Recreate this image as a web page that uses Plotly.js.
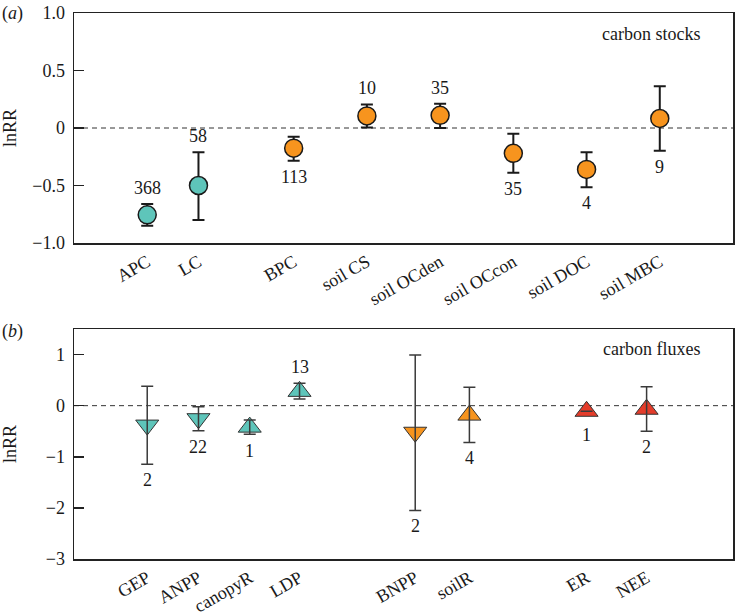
<!DOCTYPE html>
<html>
<head>
<meta charset="utf-8">
<script src="https://cdn.plot.ly/plotly-3.0.1.min.js"></script>
<style>html,body{margin:0;padding:0;background:#fff;}#chart{width:735px;height:616px;}</style>
</head>
<body>
<div id="chart"></div>
<script>
// ---------- data: panel (a) carbon stocks ----------
const stockCats   = ['APC', 'LC', 'BPC', 'soil CS', 'soil OCden', 'soil OCcon', 'soil DOC', 'soil MBC'];
const stockGroup  = ['above', 'above', 'below', 'below', 'below', 'below', 'below', 'below'];
const stockLnRR   = [-0.755, -0.50, -0.175, 0.105, 0.11, -0.22, -0.36, 0.083];
const stockErrUp  = [0.095, 0.29, 0.10, 0.10, 0.10, 0.17, 0.15, 0.28];
const stockErrDn  = [0.095, 0.30, 0.11, 0.10, 0.11, 0.17, 0.155, 0.28];
const stockN      = [368, 58, 113, 10, 35, 35, 4, 9];
const stockNSide  = ['above', 'above', 'below', 'above', 'above', 'below', 'below', 'below'];

// ---------- data: panel (b) carbon fluxes ----------
const fluxCats    = ['GEP', 'ANPP', 'canopyR', 'LDP', 'BNPP', 'soilR', 'ER', 'NEE'];
const fluxGroup   = ['above', 'above', 'above', 'above', 'below', 'below', 'eco', 'eco'];
const fluxLnRR    = [-0.38, -0.255, -0.42, 0.28, -0.52, -0.185, -0.11, -0.07];
const fluxErrUp   = [0.76, 0.235, 0.14, 0.16, 1.51, 0.545, 0, 0.44];
const fluxErrDn   = [0.765, 0.235, 0.14, 0.15, 1.53, 0.535, 0, 0.43];
const fluxN       = [2, 22, 1, 13, 2, 4, 1, 2];
const fluxNSide   = ['below', 'below', 'below', 'above', 'below', 'below', 'below', 'below'];
const fluxMarker  = ['down', 'down', 'up', 'up', 'down', 'up', 'up', 'up'];

// ---------- layout positions (not data) ----------
const stockXPos = [1, 1.7, 3, 4, 5, 6, 7, 8];
const fluxXPos  = [1, 1.7, 2.4, 3.08, 4.66, 5.4, 7, 7.82];

const W = 735, H = 616;
const M = {l: 74, r: 2, t: 13, b: 57, pad: 0};
const plotH = H - M.t - M.b;
const panelPx = 230;
const rangeA = [-1, 1], rangeB = [-3, 1.5];
const domA = [1 - panelPx / plotH, 1], domB = [0, panelPx / plotH];
const pxA = panelPx / (rangeA[1] - rangeA[0]);
const pxB = panelPx / (rangeB[1] - rangeB[0]);

const groupColor = {above: '#5ec5ba', below: '#f7941e', eco: '#e43c2a'};
const FONT = 'Liberation Serif, Times New Roman, serif';
const TXT = '#1a1a1a';

const traces = [
  {
    x: stockXPos, y: stockLnRR, xaxis: 'x', yaxis: 'y', type: 'scatter', mode: 'markers',
    marker: {symbol: 'circle', size: 18, color: stockGroup.map(g => groupColor[g]), line: {color: '#1a1a1a', width: 1.5}},
    error_y: {type: 'data', symmetric: false, array: stockErrUp, arrayminus: stockErrDn, color: '#1a1a1a', thickness: 2, width: 6},
    hoverinfo: 'skip'
  },
  {
    x: fluxXPos, y: fluxLnRR, xaxis: 'x2', yaxis: 'y2', type: 'scatter', mode: 'markers',
    marker: {symbol: fluxMarker.map(d => 'triangle-' + d), size: 20, color: fluxGroup.map(g => groupColor[g]), line: {color: '#333', width: 1}},
    hoverinfo: 'skip'
  },
  {
    // error bars drawn above the triangles, as in the reference
    x: fluxXPos, y: fluxLnRR, xaxis: 'x2', yaxis: 'y2', type: 'scatter', mode: 'markers',
    marker: {size: 1, color: 'rgba(0,0,0,0)'},
    error_y: {type: 'data', symmetric: false, array: fluxErrUp, arrayminus: fluxErrDn, color: '#3a3a3a', thickness: 1.5, width: 6},
    hoverinfo: 'skip'
  }
];

const annotations = [];
function countLabels(xs, ys, ns, sides, up, dn, xref, yref, pxPer, half) {
  ns.forEach((n, i) => {
    const above = sides[i] === 'above';
    const errPx = (above ? up[i] : dn[i]) * pxPer;
    const shift = Math.max(errPx, half) + 16;
    annotations.push({
      x: xs[i], y: ys[i], xref: xref, yref: yref, text: String(n), showarrow: false,
      xanchor: 'center', yanchor: 'middle', yshift: above ? shift : -shift,
      font: {family: FONT, size: 18, color: TXT}
    });
  });
}
countLabels(stockXPos, stockLnRR, stockN, stockNSide, stockErrUp, stockErrDn, 'x', 'y', pxA, 9);
countLabels(fluxXPos, fluxLnRR, fluxN, fluxNSide, fluxErrUp, fluxErrDn, 'x2', 'y2', pxB, 7.5);

annotations.push(
  {xref: 'x domain', yref: 'y domain', x: 1, y: 1, xanchor: 'right', yanchor: 'middle', xshift: -31, yshift: -21,
   text: 'carbon stocks', showarrow: false, font: {family: FONT, size: 18, color: TXT}},
  {xref: 'x2 domain', yref: 'y2 domain', x: 1, y: 1, xanchor: 'right', yanchor: 'middle', xshift: -31, yshift: -20,
   text: 'carbon fluxes', showarrow: false, font: {family: FONT, size: 18, color: TXT}},
  {xref: 'paper', yref: 'paper', x: 0, y: 1, xanchor: 'left', yanchor: 'middle', xshift: -M.l, yshift: 0,
   text: '(<i>a</i>)', showarrow: false, font: {family: FONT, size: 18, color: TXT}},
  {xref: 'paper', yref: 'y2 domain', x: 0, y: 1, xanchor: 'left', yanchor: 'middle', xshift: -M.l, yshift: -3,
   text: '(<i>b</i>)', showarrow: false, font: {family: FONT, size: 18, color: TXT}}
);

const zeroLine = (yref, xref) => ({
  type: 'line', xref: xref + ' domain', yref: yref, x0: 0, x1: 1, y0: 0, y1: 0,
  line: {color: '#333', width: 1, dash: '5px,4px'}, layer: 'below'
});

const xCommon = {
  range: [0, 9], showgrid: false, zeroline: false, showline: true, mirror: true,
  linecolor: '#222', linewidth: 1.5, ticks: '', tickangle: -30,
  tickfont: {family: FONT, size: 18, color: TXT}, fixedrange: true
};
const yCommon = {
  showgrid: false, zeroline: false, showline: true, mirror: true,
  linecolor: '#222', linewidth: 1.5, ticks: 'inside', ticklen: 10, tickwidth: 1.5, tickcolor: '#222',
  tickfont: {family: FONT, size: 18, color: TXT}, fixedrange: true, ticklabelstandoff: 4
};

const layout = {
  width: W, height: H, margin: M, showlegend: false,
  paper_bgcolor: '#fff', plot_bgcolor: '#fff', hovermode: false,
  xaxis: Object.assign({}, xCommon, {anchor: 'y', tickvals: stockXPos, ticktext: stockCats}),
  xaxis2: Object.assign({}, xCommon, {anchor: 'y2', tickvals: fluxXPos, ticktext: fluxCats}),
  yaxis: Object.assign({}, yCommon, {
    domain: domA, range: rangeA, anchor: 'x',
    tickvals: [-1, -0.5, 0, 0.5, 1], ticktext: ['\u22121.0', '\u22120.5', '0', '0.5', '1.0'],
    title: {text: 'lnRR', font: {family: FONT, size: 18, color: TXT}, standoff: 12}
  }),
  yaxis2: Object.assign({}, yCommon, {
    domain: domB, range: rangeB, anchor: 'x2',
    tickvals: [-3, -2, -1, 0, 1], ticktext: ['\u22123', '\u22122', '\u22121', '0', '1'],
    title: {text: 'lnRR', font: {family: FONT, size: 18, color: TXT}, standoff: 26}
  }),
  shapes: [zeroLine('y', 'x'), zeroLine('y2', 'x2')],
  annotations: annotations
};

Plotly.newPlot('chart', traces, layout, {staticPlot: true, displayModeBar: false});
</script>
</body>
</html>
